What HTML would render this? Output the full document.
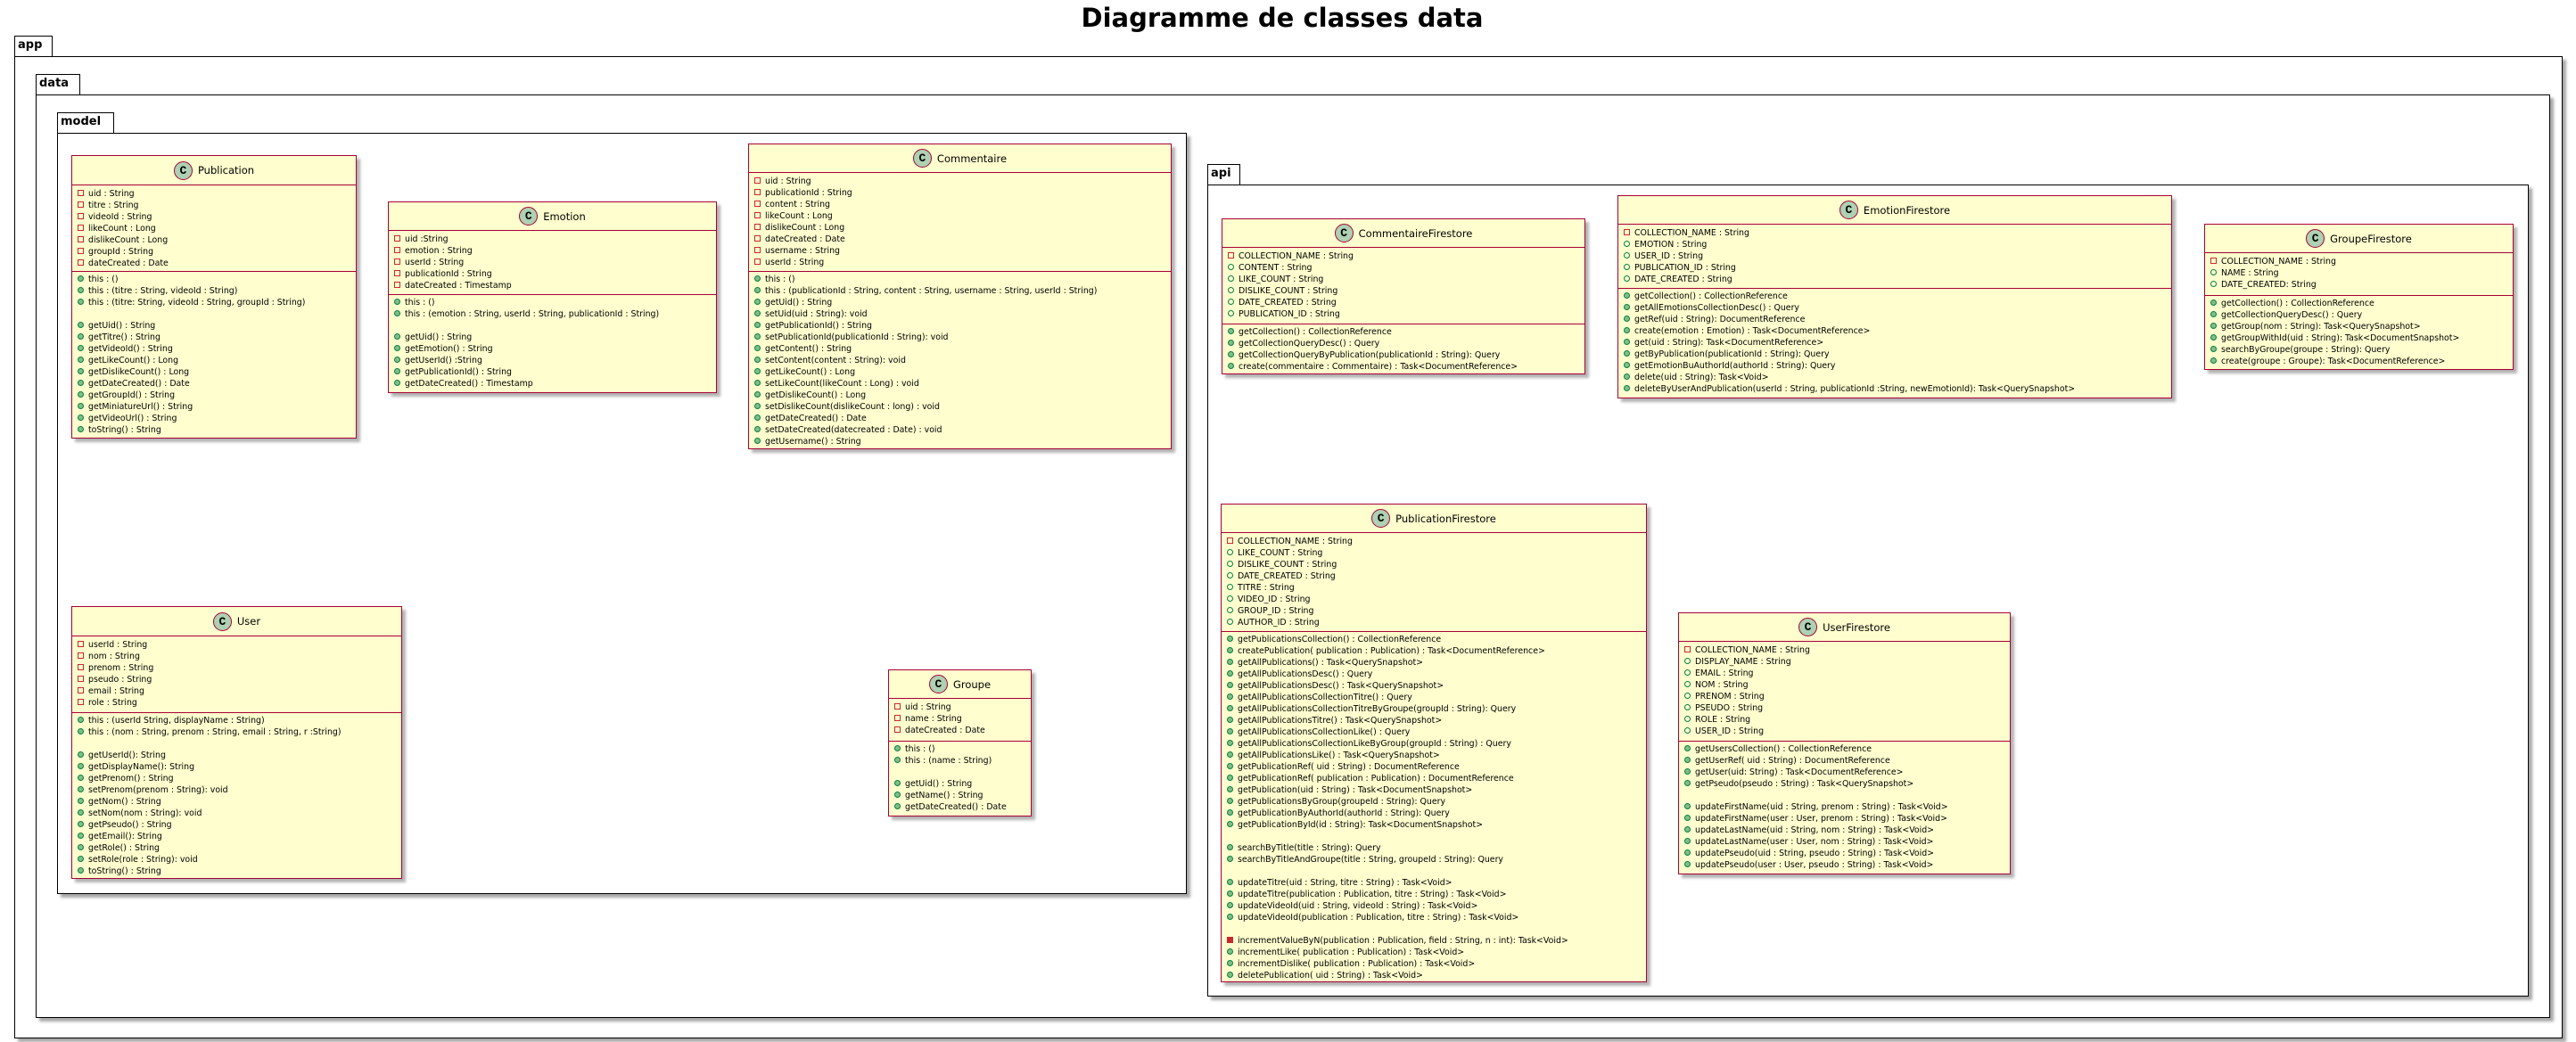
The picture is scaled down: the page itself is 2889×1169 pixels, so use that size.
<!DOCTYPE html>
<html><head><meta charset="utf-8">
<style>
*{margin:0;padding:0;box-sizing:border-box}
body{width:2889px;height:1169px;background:#fff;position:relative;overflow:hidden;font-family:"DejaVu Sans","Liberation Sans",sans-serif;color:#000}
.title{position:absolute;left:0;width:2876px;top:2px;text-align:center;font-weight:bold;font-size:29px;line-height:36px}
.pkg{position:absolute;border:1.5px solid #000;box-shadow:4px 4px 3px rgba(0,0,0,0.35);background:#fff}
.tab{position:absolute;border:1.5px solid #000;border-bottom:none;background:#fff;font-weight:bold;font-size:13px;line-height:20px;padding-left:3px}
.cls{position:absolute;border:1.5px solid #A80036;background:#FEFECE;box-shadow:4px 4px 3px rgba(0,0,0,0.3);font-size:9.4px;white-space:nowrap;overflow:visible}
.hd{display:flex;align-items:center;justify-content:center;border-bottom:1.5px solid #A80036;font-size:11.5px}
.ci{display:inline-block;width:21px;height:21px;border-radius:50%;background:#ADD1B2;border:1px solid #A80036;text-align:center;line-height:19px;font-weight:bold;font-size:13px;margin-right:6px;font-family:"Liberation Mono",monospace}
.at{border-bottom:1.5px solid #A80036;padding-top:3px}
.me{padding-top:2px}
.r{height:13px;line-height:13px;padding-left:6px}
.r i{display:inline-block;width:7px;height:7px;margin-right:5px;vertical-align:0px}
.pf{border:1px solid #C82930}
.uf{border:1px solid #038048;border-radius:50%}
.um{background:#84BE84;border:1px solid #038048;border-radius:50%}
.pm{background:#C82930;border:1px solid #C82930}
</style></head><body>
<div class="title">Diagramme de classes data</div>

<div class="tab" style="left:16px;top:40px;width:43px;height:24px">app</div>
<div class="pkg" style="left:16px;top:63px;width:2858px;height:1102px"></div>
<div class="tab" style="left:40px;top:83px;width:50px;height:24px">data</div>
<div class="pkg" style="left:40px;top:106px;width:2820px;height:1036px"></div>
<div class="tab" style="left:64px;top:126px;width:64px;height:24px">model</div>
<div class="pkg" style="left:64px;top:149px;width:1267px;height:854px"></div>
<div class="tab" style="left:1354px;top:184px;width:37px;height:24px">api</div>
<div class="pkg" style="left:1354px;top:207px;width:1482px;height:911px"></div>

<!-- Publication -->
<div class="cls" style="left:80px;top:174px;width:320px;height:318px">
<div class="hd" style="height:33px"><span class="ci">C</span>Publication</div>
<div class="at" style="height:97px">
<div class="r"><i class="pf"></i>uid : String</div>
<div class="r"><i class="pf"></i>titre : String</div>
<div class="r"><i class="pf"></i>videoId : String</div>
<div class="r"><i class="pf"></i>likeCount : Long</div>
<div class="r"><i class="pf"></i>dislikeCount : Long</div>
<div class="r"><i class="pf"></i>groupId : String</div>
<div class="r"><i class="pf"></i>dateCreated : Date</div>
</div>
<div class="me">
<div class="r"><i class="um"></i>this : ()</div>
<div class="r"><i class="um"></i>this : (titre : String, videoId : String)</div>
<div class="r"><i class="um"></i>this : (titre: String, videoId : String, groupId : String)</div>
<div class="r"></div>
<div class="r"><i class="um"></i>getUid() : String</div>
<div class="r"><i class="um"></i>getTitre() : String</div>
<div class="r"><i class="um"></i>getVideoId() : String</div>
<div class="r"><i class="um"></i>getLikeCount() : Long</div>
<div class="r"><i class="um"></i>getDislikeCount() : Long</div>
<div class="r"><i class="um"></i>getDateCreated() : Date</div>
<div class="r"><i class="um"></i>getGroupId() : String</div>
<div class="r"><i class="um"></i>getMiniatureUrl() : String</div>
<div class="r"><i class="um"></i>getVideoUrl() : String</div>
<div class="r"><i class="um"></i>toString() : String</div>
</div></div>

<!-- Emotion -->
<div class="cls" style="left:435px;top:226px;width:369px;height:215px">
<div class="hd" style="height:32px"><span class="ci">C</span>Emotion</div>
<div class="at" style="height:72px">
<div class="r"><i class="pf"></i>uid :String</div>
<div class="r"><i class="pf"></i>emotion : String</div>
<div class="r"><i class="pf"></i>userId : String</div>
<div class="r"><i class="pf"></i>publicationId : String</div>
<div class="r"><i class="pf"></i>dateCreated : Timestamp</div>
</div>
<div class="me">
<div class="r"><i class="um"></i>this : ()</div>
<div class="r"><i class="um"></i>this : (emotion : String, userId : String, publicationId : String)</div>
<div class="r"></div>
<div class="r"><i class="um"></i>getUid() : String</div>
<div class="r"><i class="um"></i>getEmotion() : String</div>
<div class="r"><i class="um"></i>getUserId() :String</div>
<div class="r"><i class="um"></i>getPublicationId() : String</div>
<div class="r"><i class="um"></i>getDateCreated() : Timestamp</div>
</div></div>

<!-- Commentaire -->
<div class="cls" style="left:839px;top:161px;width:475px;height:343px">
<div class="hd" style="height:32px"><span class="ci">C</span>Commentaire</div>
<div class="at" style="height:111px">
<div class="r"><i class="pf"></i>uid : String</div>
<div class="r"><i class="pf"></i>publicationId : String</div>
<div class="r"><i class="pf"></i>content : String</div>
<div class="r"><i class="pf"></i>likeCount : Long</div>
<div class="r"><i class="pf"></i>dislikeCount : Long</div>
<div class="r"><i class="pf"></i>dateCreated : Date</div>
<div class="r"><i class="pf"></i>username : String</div>
<div class="r"><i class="pf"></i>userId : String</div>
</div>
<div class="me">
<div class="r"><i class="um"></i>this : ()</div>
<div class="r"><i class="um"></i>this : (publicationId : String, content : String, username : String, userId : String)</div>
<div class="r"><i class="um"></i>getUid() : String</div>
<div class="r"><i class="um"></i>setUid(uid : String): void</div>
<div class="r"><i class="um"></i>getPublicationId() : String</div>
<div class="r"><i class="um"></i>setPublicationId(publicationId : String): void</div>
<div class="r"><i class="um"></i>getContent() : String</div>
<div class="r"><i class="um"></i>setContent(content : String): void</div>
<div class="r"><i class="um"></i>getLikeCount() : Long</div>
<div class="r"><i class="um"></i>setLikeCount(likeCount : Long) : void</div>
<div class="r"><i class="um"></i>getDislikeCount() : Long</div>
<div class="r"><i class="um"></i>setDislikeCount(dislikeCount : long) : void</div>
<div class="r"><i class="um"></i>getDateCreated() : Date</div>
<div class="r"><i class="um"></i>setDateCreated(datecreated : Date) : void</div>
<div class="r"><i class="um"></i>getUsername() : String</div>
</div></div>

<!-- User -->
<div class="cls" style="left:80px;top:680px;width:371px;height:306px">
<div class="hd" style="height:33px"><span class="ci">C</span>User</div>
<div class="at" style="height:86px">
<div class="r"><i class="pf"></i>userId : String</div>
<div class="r"><i class="pf"></i>nom : String</div>
<div class="r"><i class="pf"></i>prenom : String</div>
<div class="r"><i class="pf"></i>pseudo : String</div>
<div class="r"><i class="pf"></i>email : String</div>
<div class="r"><i class="pf"></i>role : String</div>
</div>
<div class="me">
<div class="r"><i class="um"></i>this : (userId String, displayName : String)</div>
<div class="r"><i class="um"></i>this : (nom : String, prenom : String, email : String, r :String)</div>
<div class="r"></div>
<div class="r"><i class="um"></i>getUserId(): String</div>
<div class="r"><i class="um"></i>getDisplayName(): String</div>
<div class="r"><i class="um"></i>getPrenom() : String</div>
<div class="r"><i class="um"></i>setPrenom(prenom : String): void</div>
<div class="r"><i class="um"></i>getNom() : String</div>
<div class="r"><i class="um"></i>setNom(nom : String): void</div>
<div class="r"><i class="um"></i>getPseudo() : String</div>
<div class="r"><i class="um"></i>getEmail(): String</div>
<div class="r"><i class="um"></i>getRole() : String</div>
<div class="r"><i class="um"></i>setRole(role : String): void</div>
<div class="r"><i class="um"></i>toString() : String</div>
</div></div>

<!-- Groupe -->
<div class="cls" style="left:996px;top:751px;width:161px;height:165px">
<div class="hd" style="height:32px"><span class="ci">C</span>Groupe</div>
<div class="at" style="height:48px">
<div class="r"><i class="pf"></i>uid : String</div>
<div class="r"><i class="pf"></i>name : String</div>
<div class="r"><i class="pf"></i>dateCreated : Date</div>
</div>
<div class="me">
<div class="r"><i class="um"></i>this : ()</div>
<div class="r"><i class="um"></i>this : (name : String)</div>
<div class="r"></div>
<div class="r"><i class="um"></i>getUid() : String</div>
<div class="r"><i class="um"></i>getName() : String</div>
<div class="r"><i class="um"></i>getDateCreated() : Date</div>
</div></div>

<!-- CommentaireFirestore -->
<div class="cls" style="left:1370px;top:245px;width:408px;height:175px">
<div class="hd" style="height:32px"><span class="ci">C</span>CommentaireFirestore</div>
<div class="at" style="height:86px">
<div class="r"><i class="pf"></i>COLLECTION_NAME : String</div>
<div class="r"><i class="uf"></i>CONTENT : String</div>
<div class="r"><i class="uf"></i>LIKE_COUNT : String</div>
<div class="r"><i class="uf"></i>DISLIKE_COUNT : String</div>
<div class="r"><i class="uf"></i>DATE_CREATED : String</div>
<div class="r"><i class="uf"></i>PUBLICATION_ID : String</div>
</div>
<div class="me">
<div class="r"><i class="um"></i>getCollection() : CollectionReference</div>
<div class="r"><i class="um"></i>getCollectionQueryDesc() : Query</div>
<div class="r"><i class="um"></i>getCollectionQueryByPublication(publicationId : String): Query</div>
<div class="r"><i class="um"></i>create(commentaire : Commentaire) : Task&lt;DocumentReference&gt;</div>
</div></div>

<!-- EmotionFirestore -->
<div class="cls" style="left:1814px;top:219px;width:622px;height:228px">
<div class="hd" style="height:32px"><span class="ci">C</span>EmotionFirestore</div>
<div class="at" style="height:72px">
<div class="r"><i class="pf"></i>COLLECTION_NAME : String</div>
<div class="r"><i class="uf"></i>EMOTION : String</div>
<div class="r"><i class="uf"></i>USER_ID : String</div>
<div class="r"><i class="uf"></i>PUBLICATION_ID : String</div>
<div class="r"><i class="uf"></i>DATE_CREATED : String</div>
</div>
<div class="me">
<div class="r"><i class="um"></i>getCollection() : CollectionReference</div>
<div class="r"><i class="um"></i>getAllEmotionsCollectionDesc() : Query</div>
<div class="r"><i class="um"></i>getRef(uid : String): DocumentReference</div>
<div class="r"><i class="um"></i>create(emotion : Emotion) : Task&lt;DocumentReference&gt;</div>
<div class="r"><i class="um"></i>get(uid : String): Task&lt;DocumentReference&gt;</div>
<div class="r"><i class="um"></i>getByPublication(publicationId : String): Query</div>
<div class="r"><i class="um"></i>getEmotionBuAuthorId(authorId : String): Query</div>
<div class="r"><i class="um"></i>delete(uid : String): Task&lt;Void&gt;</div>
<div class="r"><i class="um"></i>deleteByUserAndPublication(userId : String, publicationId :String, newEmotionId): Task&lt;QuerySnapshot&gt;</div>
</div></div>

<!-- GroupeFirestore -->
<div class="cls" style="left:2472px;top:251px;width:347px;height:164px">
<div class="hd" style="height:32px"><span class="ci">C</span>GroupeFirestore</div>
<div class="at" style="height:48px">
<div class="r"><i class="pf"></i>COLLECTION_NAME : String</div>
<div class="r"><i class="uf"></i>NAME : String</div>
<div class="r"><i class="uf"></i>DATE_CREATED: String</div>
</div>
<div class="me">
<div class="r"><i class="um"></i>getCollection() : CollectionReference</div>
<div class="r"><i class="um"></i>getCollectionQueryDesc() : Query</div>
<div class="r"><i class="um"></i>getGroup(nom : String): Task&lt;QuerySnapshot&gt;</div>
<div class="r"><i class="um"></i>getGroupWithId(uid : String): Task&lt;DocumentSnapshot&gt;</div>
<div class="r"><i class="um"></i>searchByGroupe(groupe : String): Query</div>
<div class="r"><i class="um"></i>create(groupe : Groupe): Task&lt;DocumentReference&gt;</div>
</div></div>

<!-- PublicationFirestore -->
<div class="cls" style="left:1369px;top:565px;width:478px;height:537px">
<div class="hd" style="height:32px"><span class="ci">C</span>PublicationFirestore</div>
<div class="at" style="height:111px">
<div class="r"><i class="pf"></i>COLLECTION_NAME : String</div>
<div class="r"><i class="uf"></i>LIKE_COUNT : String</div>
<div class="r"><i class="uf"></i>DISLIKE_COUNT : String</div>
<div class="r"><i class="uf"></i>DATE_CREATED : String</div>
<div class="r"><i class="uf"></i>TITRE : String</div>
<div class="r"><i class="uf"></i>VIDEO_ID : String</div>
<div class="r"><i class="uf"></i>GROUP_ID : String</div>
<div class="r"><i class="uf"></i>AUTHOR_ID : String</div>
</div>
<div class="me">
<div class="r"><i class="um"></i>getPublicationsCollection() : CollectionReference</div>
<div class="r"><i class="um"></i>createPublication( publication : Publication) : Task&lt;DocumentReference&gt;</div>
<div class="r"><i class="um"></i>getAllPublications() : Task&lt;QuerySnapshot&gt;</div>
<div class="r"><i class="um"></i>getAllPublicationsDesc() : Query</div>
<div class="r"><i class="um"></i>getAllPublicationsDesc() : Task&lt;QuerySnapshot&gt;</div>
<div class="r"><i class="um"></i>getAllPublicationsCollectionTitre() : Query</div>
<div class="r"><i class="um"></i>getAllPublicationsCollectionTitreByGroupe(groupId : String): Query</div>
<div class="r"><i class="um"></i>getAllPublicationsTitre() : Task&lt;QuerySnapshot&gt;</div>
<div class="r"><i class="um"></i>getAllPublicationsCollectionLike() : Query</div>
<div class="r"><i class="um"></i>getAllPublicationsCollectionLikeByGroup(groupId : String) : Query</div>
<div class="r"><i class="um"></i>getAllPublicationsLike() : Task&lt;QuerySnapshot&gt;</div>
<div class="r"><i class="um"></i>getPublicationRef( uid : String) : DocumentReference</div>
<div class="r"><i class="um"></i>getPublicationRef( publication : Publication) : DocumentReference</div>
<div class="r"><i class="um"></i>getPublication(uid : String) : Task&lt;DocumentSnapshot&gt;</div>
<div class="r"><i class="um"></i>getPublicationsByGroup(groupeId : String): Query</div>
<div class="r"><i class="um"></i>getPublicationByAuthorId(authorId : String): Query</div>
<div class="r"><i class="um"></i>getPublicationById(id : String): Task&lt;DocumentSnapshot&gt;</div>
<div class="r"></div>
<div class="r"><i class="um"></i>searchByTitle(title : String): Query</div>
<div class="r"><i class="um"></i>searchByTitleAndGroupe(title : String, groupeId : String): Query</div>
<div class="r"></div>
<div class="r"><i class="um"></i>updateTitre(uid : String, titre : String) : Task&lt;Void&gt;</div>
<div class="r"><i class="um"></i>updateTitre(publication : Publication, titre : String) : Task&lt;Void&gt;</div>
<div class="r"><i class="um"></i>updateVideoId(uid : String, videoId : String) : Task&lt;Void&gt;</div>
<div class="r"><i class="um"></i>updateVideoId(publication : Publication, titre : String) : Task&lt;Void&gt;</div>
<div class="r"></div>
<div class="r"><i class="pm"></i>incrementValueByN(publication : Publication, field : String, n : int): Task&lt;Void&gt;</div>
<div class="r"><i class="um"></i>incrementLike( publication : Publication) : Task&lt;Void&gt;</div>
<div class="r"><i class="um"></i>incrementDislike( publication : Publication) : Task&lt;Void&gt;</div>
<div class="r"><i class="um"></i>deletePublication( uid : String) : Task&lt;Void&gt;</div>
</div></div>

<!-- UserFirestore -->
<div class="cls" style="left:1882px;top:687px;width:373px;height:294px">
<div class="hd" style="height:32px"><span class="ci">C</span>UserFirestore</div>
<div class="at" style="height:112px">
<div class="r"><i class="pf"></i>COLLECTION_NAME : String</div>
<div class="r"><i class="uf"></i>DISPLAY_NAME : String</div>
<div class="r"><i class="uf"></i>EMAIL : String</div>
<div class="r"><i class="uf"></i>NOM : String</div>
<div class="r"><i class="uf"></i>PRENOM : String</div>
<div class="r"><i class="uf"></i>PSEUDO : String</div>
<div class="r"><i class="uf"></i>ROLE : String</div>
<div class="r"><i class="uf"></i>USER_ID : String</div>
</div>
<div class="me">
<div class="r"><i class="um"></i>getUsersCollection() : CollectionReference</div>
<div class="r"><i class="um"></i>getUserRef( uid : String) : DocumentReference</div>
<div class="r"><i class="um"></i>getUser(uid: String) : Task&lt;DocumentReference&gt;</div>
<div class="r"><i class="um"></i>getPseudo(pseudo : String) : Task&lt;QuerySnapshot&gt;</div>
<div class="r"></div>
<div class="r"><i class="um"></i>updateFirstName(uid : String, prenom : String) : Task&lt;Void&gt;</div>
<div class="r"><i class="um"></i>updateFirstName(user : User, prenom : String) : Task&lt;Void&gt;</div>
<div class="r"><i class="um"></i>updateLastName(uid : String, nom : String) : Task&lt;Void&gt;</div>
<div class="r"><i class="um"></i>updateLastName(user : User, nom : String) : Task&lt;Void&gt;</div>
<div class="r"><i class="um"></i>updatePseudo(uid : String, pseudo : String) : Task&lt;Void&gt;</div>
<div class="r"><i class="um"></i>updatePseudo(user : User, pseudo : String) : Task&lt;Void&gt;</div>
</div></div>

</body></html>
